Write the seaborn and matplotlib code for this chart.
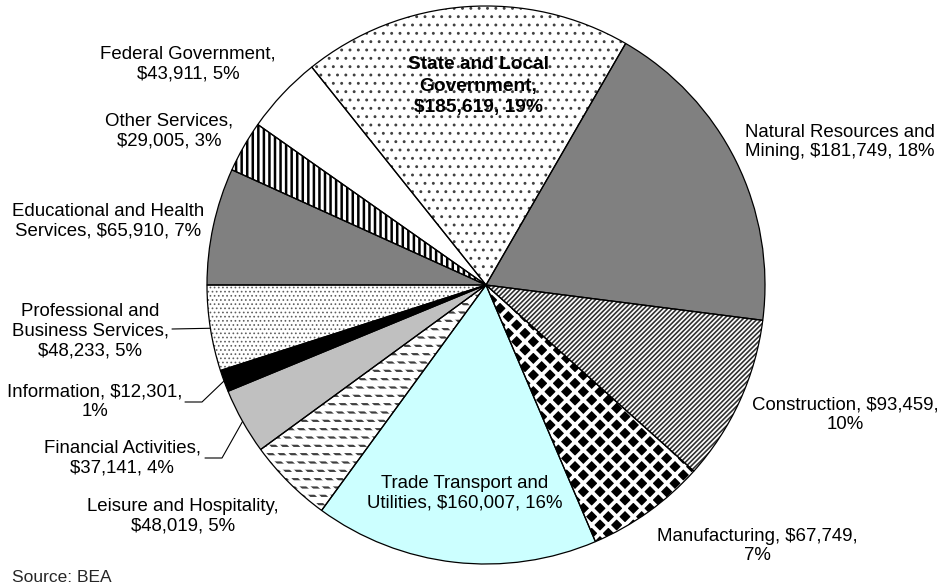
import numpy as np
import matplotlib
matplotlib.use("Agg")
import matplotlib.pyplot as plt
import seaborn as sns

# ---------------- data ----------------
categories = ["State and Local Government", "Natural Resources and Mining", "Construction",
              "Manufacturing", "Trade Transport and Utilities", "Leisure and Hospitality",
              "Financial Activities", "Information", "Professional and Business Services",
              "Educational and Health Services", "Other Services", "Federal Government"]
values = [185619, 181749, 93459, 67749, 160007, 48019, 37141, 12301, 48233, 65910, 29005, 43911]
percents = [19, 18, 10, 7, 16, 5, 4, 1, 5, 7, 3, 5]
label_templates = [
    "State and Local\nGovernment,\n${v}, {p}%",
    "Natural Resources and\nMining, ${v}, {p}%",
    "Construction, ${v},\n{p}%",
    "Manufacturing, ${v},\n{p}%",
    "Trade Transport and\nUtilities, ${v}, {p}%",
    "Leisure and Hospitality,\n${v}, {p}%",
    "Financial Activities,\n${v}, {p}%",
    "Information, ${v},\n{p}%",
    "Professional and\nBusiness Services,\n${v}, {p}%",
    "Educational and Health\nServices, ${v}, {p}%",
    "Other Services,\n${v}, {p}%",
    "Federal Government,\n${v}, {p}%",
]
source_text = "Source: BEA"

# ---------------- styles ----------------
face_colors = ["white", "#808080", "white", "black", "#CCFFFF", "white",
               "#C0C0C0", "black", "white", "#808080", "white", "white"]
hatches = ["..", None, "///////", "xx", None, "--", None, None, "....", None, "|||", None]
hatch_colors = ["#404040", None, "#303030", "white", None, "#404040", None, None,
                "#606060", None, "black", None]
hatch_lws = [0.9, None, 1.2, 2.7, None, 1.6, None, None, 0.7, None, 1.8, None]

sns.set_theme(style="white")
plt.rcParams["font.family"] = ["Liberation Sans", "DejaVu Sans"]

W, H = 941, 587
CX, CY, R = 486, 285, 279


def px(x, y):
    return ((x - CX) / R, (CY - y) / R)


fig = plt.figure(figsize=(W / 100, H / 100), dpi=100)
ax = fig.add_axes([0, 0, 1, 1])

START = 128.64
# pass 1: faces + hatches
wedges, _ = ax.pie(values, startangle=START, counterclock=False, colors=face_colors,
                   radius=1, wedgeprops=dict(linewidth=0))
for w, h, hc, hl in zip(wedges, hatches, hatch_colors, hatch_lws):
    if h:
        w.set_hatch(h)
        w.set_edgecolor(hc)
        if hasattr(w, "set_hatch_linewidth"):
            w.set_hatch_linewidth(hl)
    else:
        w.set_edgecolor("none")

# pass 1b: white diagonal cuts to turn Leisure lines into dashes
cut, _ = ax.pie(values, startangle=START, counterclock=False, colors=["none"] * len(values),
                radius=1, wedgeprops=dict(linewidth=0))
for i, w in enumerate(cut):
    w.set_facecolor("none")
    if categories[i] == "Leisure and Hospitality":
        w.set_hatch("\\\\\\")
        w.set_edgecolor("white")
        if hasattr(w, "set_hatch_linewidth"):
            w.set_hatch_linewidth(2.2)
    else:
        w.set_edgecolor("none")

# pass 2: outlines
outl, _ = ax.pie(values, startangle=START, counterclock=False, radius=1,
                 wedgeprops=dict(facecolor="none", edgecolor="black", linewidth=0.9))
for w in outl:
    w.set_facecolor("none")

# ---------------- labels ----------------
label_px = [(478, 86), (840, 142), (845, 415), (757, 546), (465, 493), (183, 516),
            (122, 458), (95, 402), (90, 331), (108, 221), (169, 131), (188, 64)]
for i, (tmpl, pos) in enumerate(zip(label_templates, label_px)):
    txt = tmpl.format(v=f"{values[i]:,}", p=percents[i])
    ax.text(*px(*pos), txt, ha="center", va="center",
            fontsize=13.8 if i == 0 else 13.4, linespacing=1.32 if i == 0 else 1.2,
            fontweight="bold" if i == 0 else "normal", color="black")

# leader lines (end at wedge mid-angle on the rim)
leader_px = {8: [(172, 329)], 7: [(185, 402), (202, 402)], 6: [(205, 458), (222, 458)]}
for idx, pts in leader_px.items():
    w = outl[idx]
    mid = np.deg2rad((w.theta1 + w.theta2) / 2)
    xs = [px(*p)[0] for p in pts] + [np.cos(mid)]
    ys = [px(*p)[1] for p in pts] + [np.sin(mid)]
    ax.plot(xs, ys, color="black", lw=0.8)

ax.text(*px(12, 577), source_text, ha="left", va="center", fontsize=12.5)

ax.set_aspect("auto")
ax.set_xlim(-CX / R, (W - CX) / R)
ax.set_ylim(-(H - CY) / R, CY / R)
ax.axis("off")

fig.savefig("out.png", dpi=100, facecolor="white")
